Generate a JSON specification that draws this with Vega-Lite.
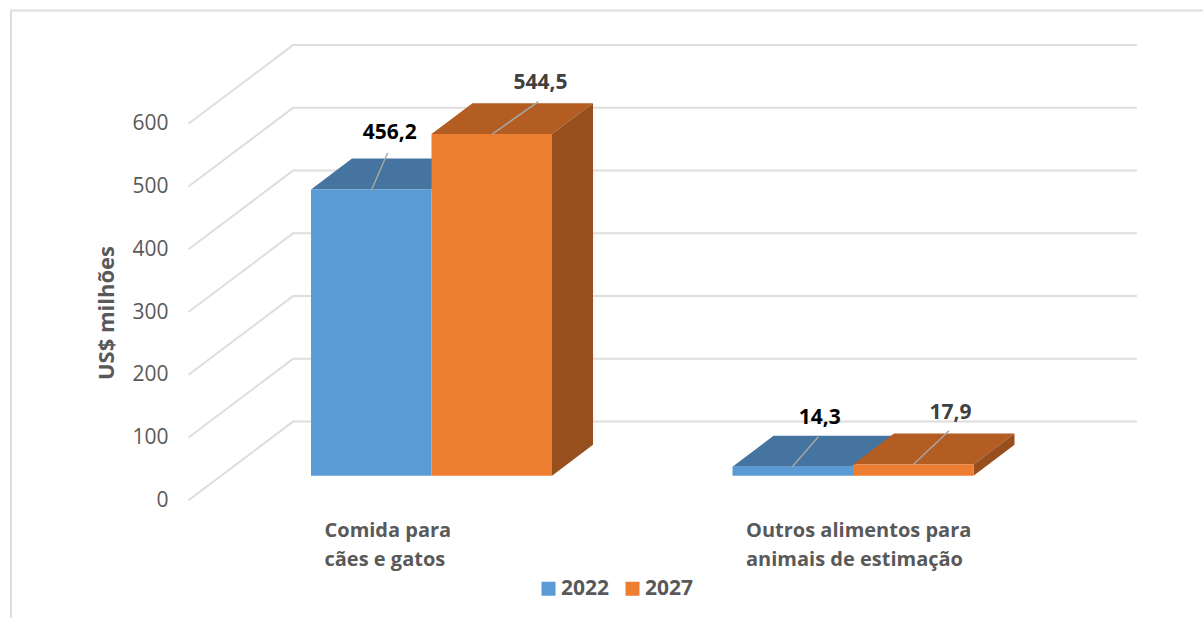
{"$schema":"https://vega.github.io/schema/vega-lite/v6.json","width":1203,"height":618,"padding":0,"autosize":{"type":"none"},"background":"white","config":{"view":{"stroke":null},"font":"Open Sans"},
"datasets":{
"moldura":[{"ordem":1,"pos":0.0024,"alt":-187.6},{"ordem":2,"pos":0.0024,"alt":780.6},{"ordem":3,"pos":2.8304,"alt":780.6}],
"grade":[
{"marca":0,"pos":0.4235,"alt":0},{"marca":0,"pos":0.6714,"alt":125.4},{"marca":0,"pos":2.6738,"alt":125.4},
{"marca":100,"pos":0.4235,"alt":100},{"marca":100,"pos":0.6714,"alt":225.4},{"marca":100,"pos":2.6738,"alt":225.4},
{"marca":200,"pos":0.4235,"alt":200},{"marca":200,"pos":0.6714,"alt":325.4},{"marca":200,"pos":2.6738,"alt":325.4},
{"marca":300,"pos":0.4235,"alt":300},{"marca":300,"pos":0.6714,"alt":425.4},{"marca":300,"pos":2.6738,"alt":425.4},
{"marca":400,"pos":0.4235,"alt":400},{"marca":400,"pos":0.6714,"alt":525.4},{"marca":400,"pos":2.6738,"alt":525.4},
{"marca":500,"pos":0.4235,"alt":500},{"marca":500,"pos":0.6714,"alt":625.4},{"marca":500,"pos":2.6738,"alt":625.4},
{"marca":600,"pos":0.4235,"alt":600},{"marca":600,"pos":0.6714,"alt":725.4},{"marca":600,"pos":2.6738,"alt":725.4}],
"topo2022":[
{"cat":"a","pos":0.7141,"base":456.2,"topo":456.2},{"cat":"a","pos":0.8114,"base":456.2,"topo":505.4},{"cat":"a","pos":1.0,"base":456.2,"topo":505.4},{"cat":"a","pos":1.0973,"base":505.4,"topo":505.4},
{"cat":"b","pos":1.7141,"base":14.3,"topo":14.3},{"cat":"b","pos":1.8114,"base":14.3,"topo":63.5},{"cat":"b","pos":2.0,"base":14.3,"topo":63.5},{"cat":"b","pos":2.0973,"base":63.5,"topo":63.5}],
"topo2027":[
{"cat":"a","pos":1.0,"base":544.5,"topo":544.5},{"cat":"a","pos":1.0973,"base":544.5,"topo":593.7},{"cat":"a","pos":1.2859,"base":544.5,"topo":593.7},{"cat":"a","pos":1.3832,"base":593.7,"topo":593.7},
{"cat":"b","pos":2.0,"base":17.9,"topo":17.9},{"cat":"b","pos":2.0973,"base":17.9,"topo":67.1},{"cat":"b","pos":2.2859,"base":17.9,"topo":67.1},{"cat":"b","pos":2.3832,"base":67.1,"topo":67.1}],
"lado2027":[
{"cat":"a","pos":1.2859,"base":0,"topo":544.5},{"cat":"a","pos":1.3832,"base":49.2,"topo":593.7},
{"cat":"b","pos":2.2859,"base":0,"topo":17.9},{"cat":"b","pos":2.3832,"base":49.2,"topo":67.1}],
"barras":[
{"categoria":"Comida para cães e gatos","ano":"2022","valor":456.2},
{"categoria":"Comida para cães e gatos","ano":"2027","valor":544.5},
{"categoria":"Outros alimentos para animais de estimação","ano":"2022","valor":14.3},
{"categoria":"Outros alimentos para animais de estimação","ano":"2027","valor":17.9}],
"guias":[
{"ano":"2022","pos":0.8581,"alt":456.2,"pos2":0.8961,"alt2":514.7},
{"ano":"2027","pos":1.1442,"alt":544.5,"pos2":1.2534,"alt2":596.0},
{"ano":"2022","pos":1.856,"alt":14.3,"pos2":1.9177,"alt2":62.2},
{"ano":"2027","pos":2.1431,"alt":17.9,"pos2":2.2278,"alt2":71.7}],
"rotulos":[
{"ano":"2022","texto":"456,2","pos":0.9008,"alt":546.9},
{"ano":"2027","texto":"544,5","pos":1.2586,"alt":625.8},
{"ano":"2022","texto":"14,3","pos":1.921,"alt":91.95},
{"ano":"2027","texto":"17,9","pos":2.2313,"alt":99.4}]
},
"layer":[
{"data":{"name":"moldura"},"mark":{"type":"line","color":"#DEDEDE","strokeWidth":2,"clip":false},"encoding":{"order":{"field":"ordem"},"x":{"field":"pos","type":"quantitative","axis":null,"scale":{"domain":[-0.02372,2.83037],"nice":false,"zero":false}},"y":{"field":"alt","type":"quantitative","axis":null,"scale":{"domain":[-187.6,797.3],"nice":false,"zero":false}}}},
{"data":{"name":"grade"},"mark":{"type":"line","color":"#DEDEDE","strokeWidth":2},"encoding":{"detail":{"field":"marca"},"x":{"field":"pos","type":"quantitative","axis":null,"scale":{"domain":[-0.02372,2.83037],"nice":false,"zero":false}},"y":{"field":"alt","type":"quantitative","scale":{"domain":[-187.6,797.3],"nice":false,"zero":false},"axis":{"orient":"left","offset":-168,"values":[0,100,200,300,400,500,600],"domain":false,"ticks":false,"grid":false,"labelPadding":0,"labelAlign":"right","labelBaseline":"middle","labelFont":"Open Sans","labelFontSize":21,"labelColor":"#595959","title":"US$ milhões","titleFont":"Open Sans","titleFontSize":22,"titleFontWeight":"bold","titleColor":"#595959","titleAngle":270,"titleAlign":"center","titleBaseline":"middle","titleX":-62,"titleY":312.5}}}},
{"data":{"name":"topo2022"},"mark":{"type":"area","color":"#44749F","orient":"vertical"},"encoding":{"detail":{"field":"cat"},"x":{"field":"pos","type":"quantitative","axis":null,"scale":{"domain":[-0.02372,2.83037],"nice":false,"zero":false}},"y":{"field":"base","type":"quantitative","axis":null,"scale":{"domain":[-226.8,758.1],"nice":false,"zero":false}},"y2":{"field":"topo"}}},
{"data":{"name":"topo2027"},"mark":{"type":"area","color":"#B35D22","orient":"vertical"},"encoding":{"detail":{"field":"cat"},"x":{"field":"pos","type":"quantitative","axis":null,"scale":{"domain":[-0.02372,2.83037],"nice":false,"zero":false}},"y":{"field":"base","type":"quantitative","axis":null,"scale":{"domain":[-226.8,758.1],"nice":false,"zero":false}},"y2":{"field":"topo"}}},
{"data":{"name":"lado2027"},"mark":{"type":"area","color":"#974F1D","orient":"vertical"},"encoding":{"detail":{"field":"cat"},"x":{"field":"pos","type":"quantitative","axis":null,"scale":{"domain":[-0.02372,2.83037],"nice":false,"zero":false}},"y":{"field":"base","type":"quantitative","axis":null,"scale":{"domain":[-226.8,758.1],"nice":false,"zero":false}},"y2":{"field":"topo"}}},
{"data":{"name":"barras"},"mark":{"type":"bar"},"encoding":{
"x":{"field":"categoria","type":"nominal","sort":null,"scale":{"range":[220.75,1063.75],"paddingInner":0,"paddingOuter":0},"axis":{"orient":"bottom","offset":-98,"title":null,"domain":false,"ticks":false,"labelAngle":0,"labelAlign":"left","labelBaseline":"top","labelOffset":-107,"labelPadding":0,"labelLimit":0,"labelFont":"Open Sans","labelFontSize":20,"labelFontWeight":"bold","labelColor":"#595959","labelLineHeight":29,"labelExpr":"datum.value=='Comida para cães e gatos'?['Comida para','cães e gatos']:['Outros alimentos para','animais de estimação']"}},
"xOffset":{"field":"ano","type":"nominal","scale":{"paddingInner":0,"paddingOuter":0.749}},
"y":{"field":"valor","type":"quantitative","axis":null,"scale":{"domain":[-226.8,758.1],"nice":false,"zero":false}},
"color":{"field":"ano","type":"nominal","scale":{"domain":["2022","2027"],"range":["#5B9BD5","#ED7D31"]},"legend":{"orient":"none","legendX":538,"legendY":578,"padding":0,"direction":"horizontal","columns":2,"title":null,"symbolType":"square","symbolSize":196,"symbolStrokeWidth":0,"labelFont":"Open Sans","labelFontSize":21,"labelFontWeight":"bold","labelColor":"#595959","labelOffset":2,"columnPadding":12}}}},
{"data":{"name":"guias"},"mark":{"type":"rule","color":"#A6A6A6","strokeWidth":1.5},"encoding":{"x":{"field":"pos","type":"quantitative","axis":null,"scale":{"domain":[-0.02372,2.83037],"nice":false,"zero":false}},"x2":{"field":"pos2"},"y":{"field":"alt","type":"quantitative","axis":null,"scale":{"domain":[-226.8,758.1],"nice":false,"zero":false}},"y2":{"field":"alt2"}}},
{"data":{"name":"rotulos"},"mark":{"type":"text","font":"Open Sans","fontSize":21,"fontWeight":"bold","align":"center","baseline":"middle"},"encoding":{"text":{"field":"texto"},"color":{"field":"ano","type":"nominal","legend":null,"scale":{"domain":["2022","2027"],"range":["#000000","#404040"]}},"x":{"field":"pos","type":"quantitative","axis":null,"scale":{"domain":[-0.02372,2.83037],"nice":false,"zero":false}},"y":{"field":"alt","type":"quantitative","axis":null,"scale":{"domain":[-226.8,758.1],"nice":false,"zero":false}}}}
],
"resolve":{"scale":{"x":"independent","y":"independent","color":"independent","xOffset":"independent"},"axis":{"x":"independent","y":"independent"}}}
